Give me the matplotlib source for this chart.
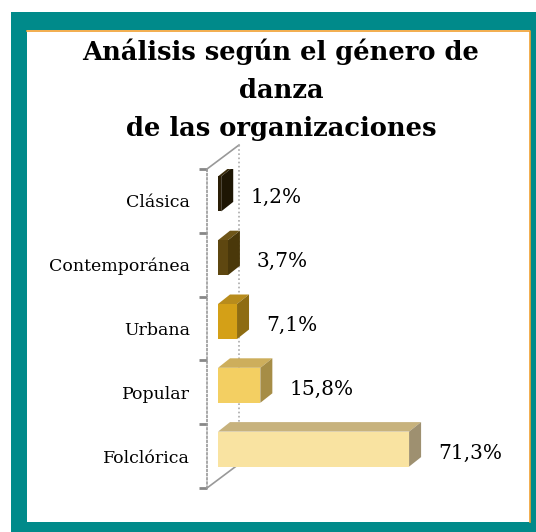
import matplotlib
matplotlib.use("Agg")
import matplotlib.pyplot as plt
from matplotlib.patches import Rectangle, Polygon
from matplotlib.lines import Line2D
import numpy as np

categories = ["Clásica", "Contemporánea", "Urbana", "Popular", "Folclórica"]
values = [1.2, 3.7, 7.1, 15.8, 71.3]
labels = ["1,2%", "3,7%", "7,1%", "15,8%", "71,3%"]
title_lines = ["Análisis según el género de", "danza", "de las organizaciones"]

front_colors = ["#2A1E06", "#5E4710", "#D4A017", "#F3CF62", "#F9E3A1"]
top_colors = ["#3A2C0C", "#6E5518", "#B88C1C", "#CDAE5C", "#C7B27D"]
side_colors = ["#1E1604", "#4A380A", "#8E6C12", "#A68D46", "#9E9070"]

W, H = 536, 532
fig = plt.figure(figsize=(W / 100, H / 100), dpi=100)
fig.patch.set_facecolor("white")

def fx(px):
    return px / W

def fy(py):
    return 1 - py / H

# teal frame and inner panel
fig.patches.append(Rectangle((fx(11), fy(532)), fx(536) - fx(11), fy(12) - fy(532),
                             transform=fig.transFigure, facecolor="#008A8A", edgecolor="none", zorder=0))
fig.patches.append(Rectangle((fx(27), fy(522)), fx(530) - fx(27), fy(30) - fy(522),
                             transform=fig.transFigure, facecolor="white", edgecolor="none", zorder=1))
fig.lines.append(Line2D([fx(27), fx(529.5), fx(529.5)], [fy(30.5), fy(30.5), fy(522)],
                        transform=fig.transFigure, color="#F0A030", lw=1.2, zorder=2))

for k, line in enumerate(title_lines):
    fig.text(fx(281), fy(49 + 38.5 * k), line, ha="center", va="center_baseline",
             family="DejaVu Serif", fontweight="bold", fontsize=18.5, color="black", zorder=5)

# axes geometry
ax_left, ax_right, ax_top, ax_bot = 207, 510, 169, 488
ax = fig.add_axes([fx(ax_left), fy(ax_bot), fx(ax_right) - fx(ax_left), fy(ax_top) - fy(ax_bot)])
ax.set_zorder(5)
ax.set_facecolor("none")
pxx = 2.68                      # pixels per percent
pxy = (ax_bot - ax_top) / len(categories)  # pixels per category
ax.set_xlim(0, (ax_right - ax_left) / pxx)
ax.set_ylim(len(categories) - 0.5, -0.5)

for s in ["top", "right", "bottom"]:
    ax.spines[s].set_visible(False)
ax.spines["left"].set_linestyle((0, (1, 1.5)))
ax.spines["left"].set_color("#999999")
ax.spines["left"].set_linewidth(1.2)

# 3D frame: back wall line and depth diagonals
wall_dx, wall_dy = 32 / pxx, 24 / pxy
ax.plot([0, wall_dx], [-0.5, -0.5 - wall_dy], color="#999999", lw=1.2, clip_on=False)
ax.plot([0, wall_dx], [len(categories) - 0.5, len(categories) - 0.5 - wall_dy],
        color="#999999", lw=1.2, clip_on=False)
ax.plot([wall_dx, wall_dx], [-0.5 - wall_dy, len(categories) - 0.5 - wall_dy],
        color="#AAAAAA", lw=1.2, ls=(0, (1, 1.5)), clip_on=False)

ax.set_yticks(np.arange(-0.5, len(categories), 1.0))
ax.set_yticklabels([])
ax.tick_params(axis="y", which="major", length=6, width=2, color="#888888")
ax.set_yticks(np.arange(len(categories)), minor=True)
ax.set_yticklabels(categories, minor=True, family="DejaVu Serif", fontsize=12.5)
ax.tick_params(axis="y", which="minor", length=0, pad=12)
ax.set_xticks([])

# bars
ox = 11 / pxx
oy = 7 / pxy
bh = 35 / pxy
ddx, ddy = 12 / pxx, 9.5 / pxy
ypos = np.arange(len(categories))
for i, (v, lab) in enumerate(zip(values, labels)):
    yc = ypos[i] - oy
    yt, yb = yc - bh / 2, yc + bh / 2
    x0, x1 = ox, ox + v
    ax.add_patch(Polygon([(x0, yt), (x1, yt), (x1 + ddx, yt - ddy), (x0 + ddx, yt - ddy)],
                         closed=True, facecolor=top_colors[i], edgecolor="none", zorder=3))
    ax.add_patch(Polygon([(x1, yt), (x1 + ddx, yt - ddy), (x1 + ddx, yb - ddy), (x1, yb)],
                         closed=True, facecolor=side_colors[i], edgecolor="none", zorder=3))
    ax.barh(yc, v, left=x0, height=bh, color=front_colors[i], edgecolor="none", zorder=4)
    ax.text(x1 + ddx + 17 / pxx, ypos[i] - 0.05, lab, va="center", ha="left",
            family="DejaVu Serif", fontsize=14.5, color="black", zorder=5)

fig.savefig("out.png", dpi=100)
